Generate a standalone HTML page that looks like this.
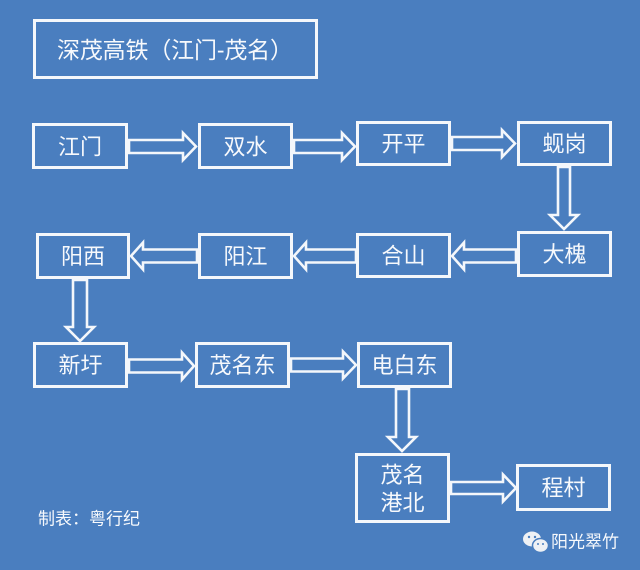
<!DOCTYPE html>
<html><head><meta charset="utf-8"><style>
html,body{margin:0;padding:0;background:#4a7ebf;}
svg{display:block;}
text{font-family:"Liberation Sans","Noto Sans CJK SC",sans-serif;fill:#f7f9fc;}
</style></head><body>
<svg width="640" height="570" viewBox="0 0 640 570" xmlns="http://www.w3.org/2000/svg">
<rect x="0" y="0" width="640" height="570" fill="#4a7ebf"/>
<g fill="none" stroke="#f4f7fb" stroke-width="3">
<rect x="34.5" y="20.5" width="282" height="57"/>
<rect x="33.5" y="124.5" width="93" height="43"/>
<rect x="199.5" y="124.5" width="92" height="43"/>
<rect x="357.5" y="122.5" width="92" height="42"/>
<rect x="518.5" y="122.5" width="92" height="42"/>
<rect x="518.5" y="232.5" width="92" height="43"/>
<rect x="357.5" y="234.5" width="92" height="42"/>
<rect x="199.5" y="234.5" width="92" height="43"/>
<rect x="37.5" y="234.5" width="91" height="43"/>
<rect x="34.5" y="343.5" width="92" height="43"/>
<rect x="196.5" y="343.5" width="92" height="43"/>
<rect x="358.5" y="343.5" width="92" height="43"/>
<rect x="356.5" y="454.5" width="92" height="67"/>
<rect x="517.5" y="465.5" width="92" height="44"/>
</g>
<g fill="none" stroke="#f4f7fb" stroke-width="2.6" stroke-linejoin="miter">
<!-- 江门 -> 双水 -->
<path d="M129,140 L183,140 L183,133 L196,146.5 L183,160 L183,153 L129,153 Z"/>
<!-- 双水 -> 开平 -->
<path d="M294,140 L342,140 L342,133 L355,146.5 L342,160 L342,153 L294,153 Z"/>
<!-- 开平 -> 蚬岗 -->
<path d="M452,137 L502,137 L502,130 L515,143.5 L502,157 L502,150 L452,150 Z"/>
<!-- 蚬岗 -> 大槐 -->
<path d="M558,167 L558,215 L550,215 L564,229 L578,215 L570,215 L570,167 Z"/>
<!-- 大槐 -> 合山 -->
<path d="M516,249.5 L464,249.5 L464,242.5 L452,256 L464,269.5 L464,262.5 L516,262.5 Z"/>
<!-- 合山 -> 阳江 -->
<path d="M356,249.5 L306,249.5 L306,242.5 L294,256 L306,269.5 L306,262.5 L356,262.5 Z"/>
<!-- 阳江 -> 阳西 -->
<path d="M197,249.5 L143,249.5 L143,242.5 L131,256 L143,269.5 L143,262.5 L197,262.5 Z"/>
<!-- 阳西 -> 新圩 -->
<path d="M73,280 L73,327 L66,327 L80,341 L94,327 L87,327 L87,280 Z"/>
<!-- 新圩 -> 茂名东 -->
<path d="M129,359.5 L182,359.5 L182,352.5 L194,366 L182,379.5 L182,372.5 L129,372.5 Z"/>
<!-- 茂名东 -> 电白东 -->
<path d="M291,358.5 L343,358.5 L343,351.5 L356,365 L343,378.5 L343,371.5 L291,371.5 Z"/>
<!-- 电白东 -> 茂名港北 -->
<path d="M396,389 L396,437 L388,437 L402,451 L416,437 L409,437 L409,389 Z"/>
<!-- 茂名港北 -> 程村 -->
<path d="M451,482 L503,482 L503,474.5 L516,488 L503,501.5 L503,494 L451,494 Z"/>
</g>
<g font-size="22" text-anchor="middle" dominant-baseline="central">
<text x="175" y="50" font-size="23" textLength="236" lengthAdjust="spacing">深茂高铁（江门-茂名）</text>
<text x="80" y="147">江门</text>
<text x="245.5" y="147">双水</text>
<text x="403.5" y="144">开平</text>
<text x="564.5" y="144">蚬岗</text>
<text x="564.5" y="254.5">大槐</text>
<text x="403.5" y="256">合山</text>
<text x="245.5" y="256.5">阳江</text>
<text x="83" y="256.5">阳西</text>
<text x="80.5" y="365.5">新圩</text>
<text x="242.5" y="365.5">茂名东</text>
<text x="404.5" y="365.5">电白东</text>
<text x="402.5" y="475">茂名</text>
<text x="402.5" y="503">港北</text>
<text x="563.5" y="488">程村</text>
</g>
<text x="38" y="519" font-size="17" dominant-baseline="central" fill="#e9eff8">制表：粤行纪</text>
<!-- wechat icon -->
<g>
<ellipse cx="532" cy="539" rx="9" ry="7.5" fill="#eef1f5"/>
<ellipse cx="540.5" cy="545.5" rx="8" ry="7" fill="#eef1f5" stroke="#4a7ebf" stroke-width="1.5"/>
<circle cx="529" cy="537" r="1.2" fill="#4a7ebf"/>
<circle cx="535" cy="537" r="1.2" fill="#4a7ebf"/>
<circle cx="538" cy="544" r="1" fill="#4a7ebf"/>
<circle cx="543" cy="544" r="1" fill="#4a7ebf"/>
</g>
<text x="551" y="542" font-size="17" dominant-baseline="central" fill="#e8ebf0">阳光翠竹</text>
</svg>
</body></html>
